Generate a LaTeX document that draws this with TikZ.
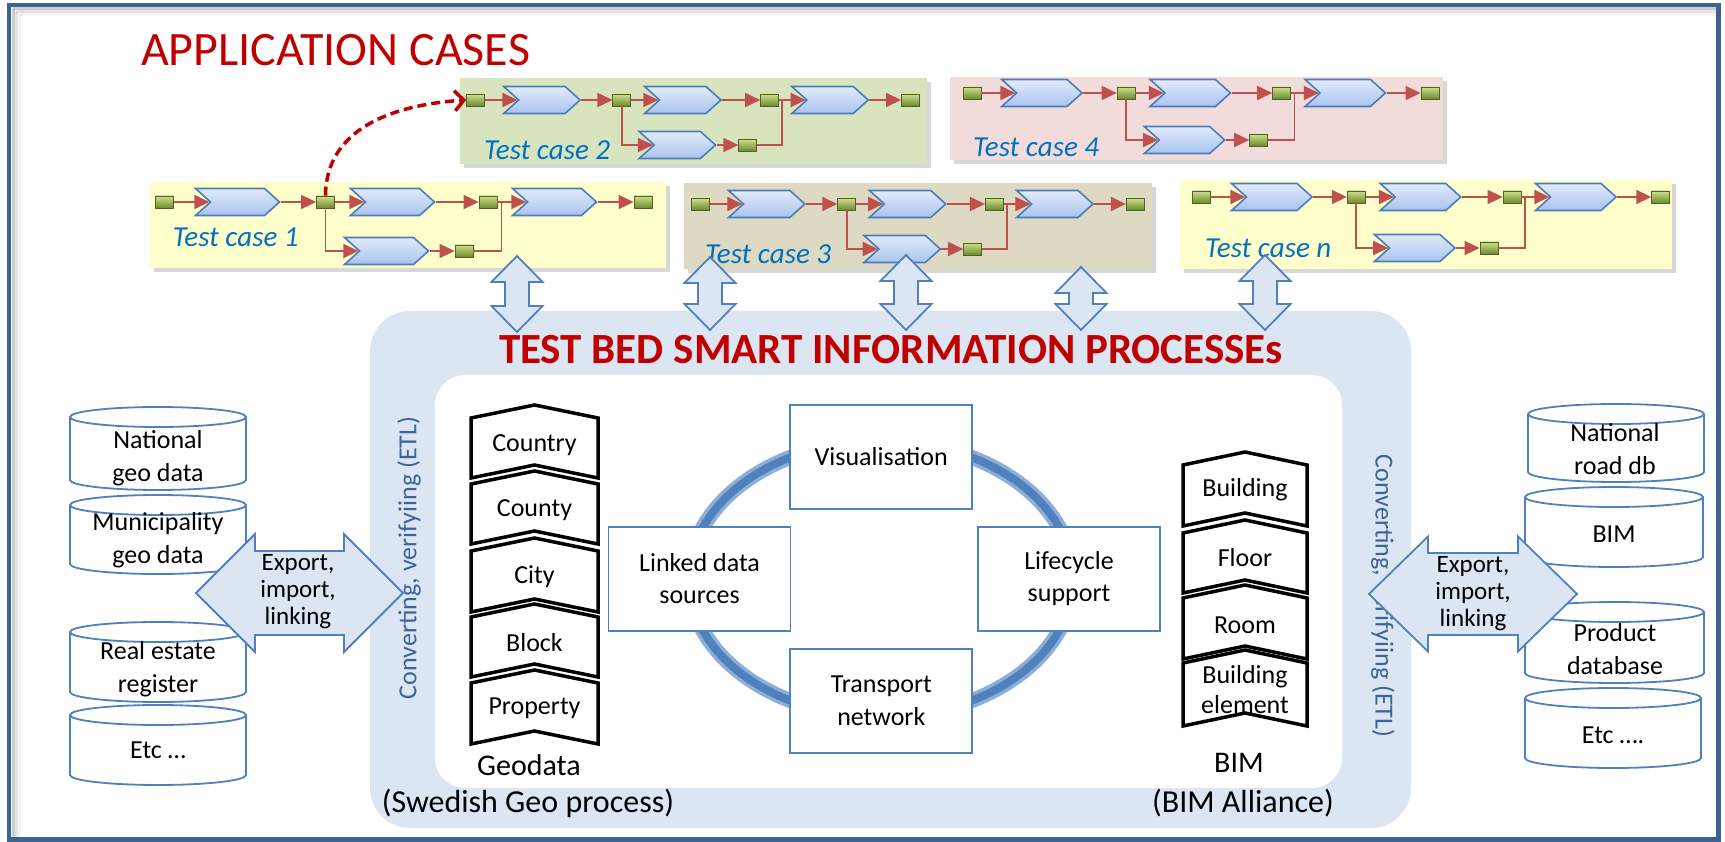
\documentclass[tikz,border=0pt]{standalone}
\usepackage{fontspec}
\setmainfont{Carlito}
\usetikzlibrary{shapes.symbols,arrows.meta,shadows}

\definecolor{framec}{HTML}{3D6393}
\definecolor{titlered}{HTML}{C00000}
\definecolor{caseblue}{HTML}{0070C0}
\definecolor{flowred}{HTML}{C0504D}
\definecolor{chevtop}{HTML}{E2EBFB}
\definecolor{chevbot}{HTML}{A9C3EE}
\definecolor{chevline}{HTML}{4A7EBB}
\definecolor{sqtop}{HTML}{CFE08F}
\definecolor{sqbot}{HTML}{6C8A2C}
\definecolor{sqline}{HTML}{4F6228}
\definecolor{caseyellow}{HTML}{FFFFCC}
\definecolor{casegreen}{HTML}{D7E4BD}
\definecolor{casetan}{HTML}{DDD9C3}
\definecolor{casepink}{HTML}{F2DCDB}
\definecolor{panel}{HTML}{DCE6F2}
\definecolor{edgeblue}{HTML}{4F81BD}
\definecolor{ringlight}{HTML}{8EAEDA}
\definecolor{etlblue}{HTML}{3A649A}

\tikzset{
  gsq/.style={rectangle, minimum width=18pt, minimum height=12pt, inner sep=0pt,
    top color=sqtop, bottom color=sqbot, draw=sqline, line width=0.8pt},
  chev/.style={signal, signal from=west, signal to=east, signal pointer angle=84,
    minimum height=27pt, inner sep=0pt, top color=chevtop, bottom color=chevbot,
    draw=chevline, line width=1.6pt},
  flowarrow/.style={draw=flowred, line width=1.8pt, -{Triangle[length=15pt,width=14pt]}},
  flowline/.style={draw=flowred, line width=1.8pt},
  casebox/.style={rectangle, inner sep=0pt,
    drop shadow={shadow xshift=4pt, shadow yshift=-4pt, opacity=0.3}},
  caselabel/.style={anchor=base west, inner sep=0pt, text=caseblue,
    font=\fontsize{29}{34}\selectfont\itshape},
  blockarrow/.style={fill=panel, draw=edgeblue, line width=1.8pt, line join=miter},
  dbline/.style={fill=white, draw=edgeblue, line width=1.8pt},
  dbtext/.style={align=center, inner sep=0pt, font=\fontsize{26}{33}\selectfont},
  tagline/.style={fill=white, draw=black, line width=3.5pt, line join=miter},
  tagtext/.style={align=center, inner sep=0pt, font=\fontsize{26}{30}\selectfont},
  procbox/.style={rectangle, fill=white, draw=edgeblue, line width=1.8pt,
    minimum width=182pt, minimum height=104pt, align=center, inner sep=0pt,
    font=\fontsize{26}{32.7}\selectfont},
  exptext/.style={align=center, inner sep=0pt, font=\fontsize{25}{27}\selectfont},
  etltext/.style={inner sep=0pt, text=etlblue, font=\fontsize{26}{30}\selectfont},
  biglabel/.style={inner sep=0pt, font=\fontsize{30}{34}\selectfont},
  srclabel/.style={inner sep=0pt, font=\fontsize{32}{37}\selectfont},
}

% one process chain: name, x of first step, y of main row, horizontal scale, drop of branch
\newcommand\testflow[5]{%
  \begin{scope}[shift={(#2,-#3)}, xscale=#4]
    \node[gsq] (#1-s0) at (0,0) {};
    \node[chev, minimum width={#4*84pt}] (#1-c1) at (73,0) {};
    \node[gsq] (#1-s1) at (161,0) {};
    \node[chev, minimum width={#4*84pt}] (#1-c2) at (228,0) {};
    \node[gsq] (#1-m) at (323.5,0) {};
    \coordinate (#1-j) at (337,0);
    \node[chev, minimum width={#4*84pt}] (#1-c3) at (390,0) {};
    \node[gsq] (#1-e) at (478.5,0) {};
    \node[chev, minimum width={#4*84pt}] (#1-lc) at (222,-#5) {};
    \node[gsq] (#1-ls) at (299.5,-#5) {};
  \end{scope}
  \draw[flowarrow] (#1-s0.east) -- (#1-c1.west);
  \draw[flowarrow] (#1-c1.east) -- (#1-s1.west);
  \draw[flowarrow] (#1-s1.east) -- (#1-c2.west);
  \draw[flowarrow] (#1-c2.east) -- (#1-m.west);
  \draw[flowarrow] (#1-m.east) -- (#1-c3.west);
  \draw[flowarrow] (#1-c3.east) -- (#1-e.west);
  \draw[flowarrow] (#1-s1.south) |- (#1-lc.west);
  \draw[flowarrow] (#1-lc.east) -- (#1-ls.west);
  \draw[flowline] (#1-ls.east) -| (#1-j);
}

% vertical double block arrow: centre x, top y, bottom y
\newcommand\vdarrow[3]{%
  \filldraw[blockarrow] (#1,-#2) -- (#1+25.5,-#2-26) -- (#1+12,-#2-26) -- (#1+12,-#3+26)
    -- (#1+25.5,-#3+26) -- (#1,-#3) -- (#1-25.5,-#3+26) -- (#1-12,-#3+26)
    -- (#1-12,-#2-26) -- (#1-25.5,-#2-26) -- cycle;}

% horizontal double block arrow: left tip, right tip, centre y, head half, shaft half, head length
\newcommand\hdarrow[6]{%
  \filldraw[blockarrow] (#1,-#3) -- (#1+#6,-#3+#4) -- (#1+#6,-#3+#5) -- (#2-#6,-#3+#5)
    -- (#2-#6,-#3+#4) -- (#2,-#3) -- (#2-#6,-#3-#4) -- (#2-#6,-#3-#5)
    -- (#1+#6,-#3-#5) -- (#1+#6,-#3-#4) -- cycle;}

% database cylinder: left, right, top, bottom
\newcommand\dbcyl[4]{%
  \filldraw[dbline] (#1,-#3-10) -- (#1,-#4+10)
    arc[start angle=180, end angle=360, x radius={(#2-#1)/2}, y radius=10]
    -- (#2,-#3-10)
    arc[start angle=0, end angle=180, x radius={(#2-#1)/2}, y radius=10] -- cycle;
  \draw[dbline, fill=none] (#1,-#3-10)
    arc[start angle=180, end angle=360, x radius={(#2-#1)/2}, y radius=10];}

% level tag with a pointed top and notched bottom: centre x, half width, top, bottom
\newcommand\leveltag[4]{%
  \filldraw[tagline] (#1-#2,-#3) -- (#1,-#3+13) -- (#1+#2,-#3) -- (#1+#2,-#4)
    -- (#1,-#4+13) -- (#1-#2,-#4) -- cycle;}

\begin{document}
\begin{tikzpicture}[x=1pt,y=1pt]
\useasboundingbox (0,0) rectangle (1725,-842);
\fill[white] (0,0) rectangle (1725,-842);

% outer frame with a soft inner shade
\foreach \d/\o in {2/0.20,5/0.11,8/0.05}{
  \draw[black, opacity=\o, line width=3pt] (11+\d,-7-\d) -- (1716,-7-\d);
  \draw[black, opacity=\o, line width=3pt] (11+\d,-7-\d) -- (11+\d,-837);
}
\draw[framec, line width=4.5pt] (9,-5) rectangle (1718.5,-839.5);

\node[anchor=base west, inner sep=0pt, text=titlered, font=\fontsize{48}{52}\selectfont]
  (apptitle) at (141,-66) {APPLICATION CASES};

% test case panels
\node[casebox, fill=casegreen, minimum width=467pt, minimum height=86pt] (tc2box) at (693.5,-121) {};
\node[casebox, fill=casepink, minimum width=493pt, minimum height=83pt] (tc4box) at (1196.5,-118.5) {};
\node[casebox, fill=caseyellow, minimum width=516pt, minimum height=86pt] (tc1box) at (408,-225) {};
\node[casebox, fill=casetan, minimum width=468pt, minimum height=86pt] (tc3box) at (918,-226) {};
\node[casebox, fill=caseyellow, minimum width=492pt, minimum height=89pt] (tcnbox) at (1426,-224.5) {};

\testflow{tc1}{164.5}{202}{1}{49}
\testflow{tc2}{475.5}{100}{0.909}{45}
\testflow{tc3}{700.3}{204}{0.909}{45}
\testflow{tc4}{972}{93}{0.957}{47}
\testflow{tcn}{1201.8}{197}{0.959}{51}

\node[caselabel] (tc1lab) at (172.5,-246.7) {Test case 1};
\node[caselabel] (tc2lab) at (484,-160) {Test case 2};
\node[caselabel] (tc3lab) at (705,-264) {Test case 3};
\node[caselabel] (tc4lab) at (973,-157) {Test case 4};
\node[caselabel] (tcnlab) at (1205,-258) {Test case n};

\draw[titlered, line width=3.5pt, dash pattern=on 9pt off 5pt,
  -{Straight Barb[length=9pt,width=20pt]}]
  (tc1-s1.north) .. controls (326,-130) and (390,-105) .. (tc2-s0.west);

% test bed
\node[fill=panel, rounded corners=40pt, minimum width=1041pt, minimum height=517pt,
  inner sep=0pt] (bed) at (890.5,-569.5) {};
\node[fill=white, rounded corners=30pt, minimum width=907pt, minimum height=413pt,
  inner sep=0pt] (core) at (888.5,-581.5) {};

\vdarrow{517}{256}{332}
\vdarrow{710}{257}{330}
\vdarrow{906}{255}{330}
\vdarrow{1081}{267}{330}
\vdarrow{1265}{255}{330}

\node[anchor=base, inner sep=0pt, text=titlered, font=\fontsize{43}{48}\selectfont\bfseries]
  (bedtitle) at (891,-363) {TEST BED SMART INFORMATION PROCESSEs};

% source databases, left
\dbcyl{70}{246}{407}{490}
\node[dbtext] (gdb1) at (158,-458) {National\\geo data};
\dbcyl{70}{246}{495}{574}
\node[dbtext] (gdb2) at (158,-540.5) {Municipality\\geo data};
\dbcyl{70}{246}{622}{702}
\node[dbtext] (gdb3) at (158,-669) {Real estate\\register};
\dbcyl{70}{246}{705}{785}
\node[dbtext] (gdb4) at (158,-750) {Etc \dots};

% source databases, right
\dbcyl{1528}{1704}{404}{482}
\node[dbtext] (bdb1) at (1615,-449.5) {National\\road db};
\dbcyl{1525}{1703}{487}{567}
\node[dbtext] (bdb2) at (1614,-534) {BIM};
\dbcyl{1525}{1704}{602}{683}
\node[dbtext] (bdb3) at (1615,-649) {Product\\database};
\dbcyl{1525}{1701}{688}{768}
\node[dbtext] (bdb4) at (1613,-735) {Etc \dots.};

% exchange arrows
\hdarrow{196}{403}{593}{59}{42}{59}
\node[exptext] (expL) at (298,-592) {Export,\\import,\\linking};
\node[etltext, rotate=90] (etlL) at (409,-558) {Converting, verifyiing (ETL)};
\node[etltext, rotate=-90] (etlR) at (1383,-596) {Converting, verifyiing (ETL)};
\hdarrow{1369}{1577}{594}{57.5}{41}{59}
\node[exptext] (expR) at (1473,-594) {Export,\\import,\\linking};

% geodata levels
\leveltag{534.5}{63.5}{418}{478}
\leveltag{534.5}{63.5}{484}{544}
\leveltag{534.5}{63.5}{551}{612}
\leveltag{534.5}{63.5}{617}{677}
\leveltag{534.5}{63.5}{683}{744}
\node[tagtext] (country) at (534.5,-445) {Country};
\node[tagtext] (county) at (534.5,-510) {County};
\node[tagtext] (city) at (534.5,-577) {City};
\node[tagtext] (block) at (534.5,-643) {Block};
\node[tagtext] (property) at (534.5,-708) {Property};
\node[biglabel] (geodata) at (529,-765) {Geodata};
\node[srclabel] (swgeo) at (528,-803) {(Swedish Geo process)};

% BIM levels
\leveltag{1245}{62}{465}{526}
\leveltag{1245}{62}{533}{593}
\leveltag{1245}{62}{598}{659}
\leveltag{1245}{62}{663}{726}
\node[tagtext] (building) at (1245,-490) {Building};
\node[tagtext] (floor) at (1245,-558) {Floor};
\node[tagtext] (room) at (1245,-625) {Room};
\node[tagtext] (element) at (1245,-690) {Building\\element};
\node[biglabel] (bimlab) at (1239,-763) {BIM};
\node[srclabel] (bimall) at (1243,-803) {(BIM Alliance)};

% service ring
\draw[ringlight, line width=15pt] (881,-579) ellipse[x radius=192, y radius=138];
\draw[edgeblue, line width=8pt] (881,-579) ellipse[x radius=192, y radius=138];
\node[procbox] (vis) at (881.3,-457) {Visualisation};
\node[procbox] (lds) at (699.5,-578.7) {Linked data\\sources};
\node[procbox] (life) at (1069,-578.7) {Lifecycle\\support};
\node[procbox] (trans) at (881.3,-701) {Transport\\network};
\end{tikzpicture}
\end{document}
